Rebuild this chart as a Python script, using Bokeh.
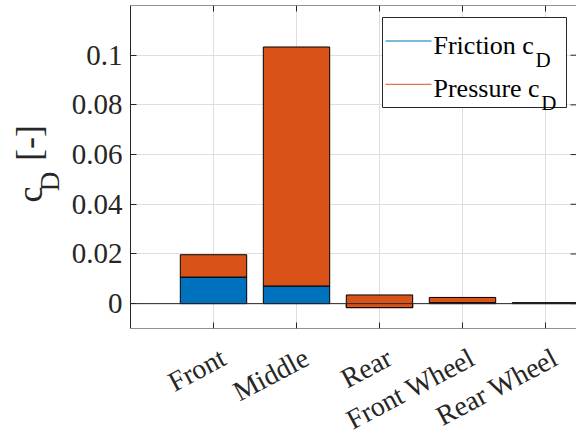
from math import pi
from bokeh.plotting import figure
from bokeh.layouts import row, column
from bokeh.models import Range1d, FixedTicker, Span, Label, Grid, ColumnDataSource
from bokeh.core.properties import value
from bokeh.embed import file_html
from bokeh.resources import INLINE

# ---- data ----
categories = ["Front", "Middle", "Rear", "Front Wheel", "Rear Wheel"]
friction_cd = [0.0107, 0.0071, -0.0016, 0.0004, 0.0001]
pressure_cd = [0.0090, 0.0962, 0.0051, 0.0021, 0.0003]
y_ticks = [0, 0.02, 0.04, 0.06, 0.08, 0.1]
y_tick_labels = ["0", "0.02", "0.04", "0.06", "0.08", "0.1"]

positions = list(range(1, len(categories) + 1))
stack_top = [f + q for f, q in zip(friction_cd, pressure_cd)]

FONT = "Liberation Serif"
AX = "#262626"
BLUE = "#0072BD"
ORANGE = "#D95319"
GRID = "#dfdfdf"

# page layout (pixels)
W, H = 576, 439
LEFT_W = 64                     # strip holding the y-axis title
FRAME_L, FRAME_R, FRAME_T, FRAME_B = 130, 576, 5, 328
TOP_H = FRAME_B + 1             # height of the upper row
Y0, Y1 = -0.01, 0.12
PX_PER_X = 83.0
X1 = (FRAME_R - FRAME_L) / PX_PER_X
TICK = 6


def X(px):
    return (px - FRAME_L) / PX_PER_X


def Y(py):
    return Y0 + (FRAME_B - py) * (Y1 - Y0) / (FRAME_B - FRAME_T)


# ---------- y-axis title strip (its frame is aligned with the main frame) ----------
lt = figure(width=LEFT_W, height=TOP_H, output_backend="svg", toolbar_location=None,
            x_range=Range1d(0, LEFT_W), y_range=Range1d(Y0, Y1),
            x_axis_type=None, y_axis_type=None,
            min_border_left=0, min_border_right=0,
            min_border_top=FRAME_T, min_border_bottom=TOP_H - FRAME_B)
lt.outline_line_color = None
lt.grid.visible = False
for txt, px, py, size in (("c", 29.5, 194, "36px"), ("D", 49, 181, "27px"), ("[-]", 28.5, 142.5, "36px")):
    lt.add_layout(Label(x=px, y=Y(py), text=txt, angle=pi / 2, text_font=FONT,
                        text_font_size=size, text_color=AX,
                        text_baseline="middle", text_align="center"))

# ---------- main plot ----------
p = figure(width=W - LEFT_W, height=TOP_H, output_backend="svg", toolbar_location=None,
           x_range=Range1d(0, X1), y_range=Range1d(Y0, Y1), x_axis_type=None,
           min_border_left=FRAME_L - LEFT_W, min_border_right=0,
           min_border_top=FRAME_T, min_border_bottom=TOP_H - FRAME_B)
p.outline_line_color = None

ya = p.yaxis[0]
ya.ticker = FixedTicker(ticks=y_ticks)
ya.major_label_overrides = {t: s for t, s in zip(y_ticks, y_tick_labels)}
ya.axis_line_color = AX
ya.major_tick_line_color = AX
ya.major_tick_in = TICK
ya.major_tick_out = 0
ya.minor_tick_line_color = None
ya.major_label_standoff = 8
ya.major_label_text_font = FONT
ya.major_label_text_font_size = "29px"
ya.major_label_text_color = AX

p.ygrid.ticker = FixedTicker(ticks=y_ticks)
p.ygrid.grid_line_color = GRID
p.add_layout(Grid(dimension=0, ticker=FixedTicker(ticks=positions), grid_line_color=GRID))

# box lines and inward ticks on bottom / top / right
p.add_layout(Span(location=Y1, dimension="width", line_color=AX, line_width=1))
p.add_layout(Span(location=Y0, dimension="width", line_color=AX, line_width=1))
dy = TICK * (Y1 - Y0) / (FRAME_B - FRAME_T)
dx = TICK / PX_PER_X
n = len(positions)
p.segment(x0=positions, x1=positions, y0=[Y0] * n, y1=[Y0 + dy] * n, line_color=AX, line_width=1)
p.segment(x0=positions, x1=positions, y0=[Y1] * n, y1=[Y1 - dy] * n, line_color=AX, line_width=1)
m = len(y_ticks)
p.segment(x0=[X1 - dx] * m, x1=[X1] * m, y0=y_ticks, y1=y_ticks, line_color=AX, line_width=1)

# stacked bars
src = ColumnDataSource(dict(x=positions, f=friction_cd, t=stack_top))
p.vbar(x="x", width=0.8, bottom=0, top="f", source=src,
       fill_color=BLUE, line_color="black", line_width=1)
p.vbar(x="x", width=0.8, bottom="f", top="t", source=src,
       fill_color=ORANGE, line_color="black", line_width=1)
p.add_layout(Span(location=0, dimension="width", line_color=AX, line_width=1))

# legend
p.quad(left=X(382), right=X(566), top=Y(17), bottom=Y(107),
       fill_color="white", line_color=AX, line_width=1)
LEG_SIZE = 26
for col, txt, py, adv in ((BLUE, "Friction c", 45, 3.861), (ORANGE, "Pressure c", 88.3, 4.082)):
    p.line([X(385), X(431)], [Y(py - 4.5), Y(py - 4.5)], line_color=col, line_width=1)
    p.add_layout(Label(x=X(433), y=Y(py), text=txt, text_font=FONT,
                       text_font_size=f"{LEG_SIZE}px", text_color="black",
                       text_baseline="alphabetic", text_align="left"))
    p.add_layout(Label(x=X(433 + adv * LEG_SIZE + 1.5), y=Y(py + 14), text="D", text_font=FONT,
                       text_font_size="21px", text_color="black",
                       text_baseline="alphabetic", text_align="left"))

# ---------- category tick labels (strip under the plot, same x scale) ----------
BOT_H = H - TOP_H
bt = figure(width=W, height=BOT_H, output_backend="svg", toolbar_location=None,
            x_range=Range1d(X(0), X(W)), y_range=Range1d(-(H - FRAME_B), -(TOP_H - FRAME_B)),
            x_axis_type=None, y_axis_type=None,
            min_border_left=0, min_border_right=0, min_border_top=0, min_border_bottom=0)
bt.outline_line_color = None
bt.grid.visible = False
label_shift = 10 / PX_PER_X
bt.text(x=[x + label_shift for x in positions], y=[-27] * n, text=categories,
        angle=28 * pi / 180, text_align="right", text_baseline="alphabetic",
        text_font=value(FONT), text_font_size="28px", text_color=AX)

open("out.html", "w").write(file_html(column(row(lt, p), bt), INLINE))
